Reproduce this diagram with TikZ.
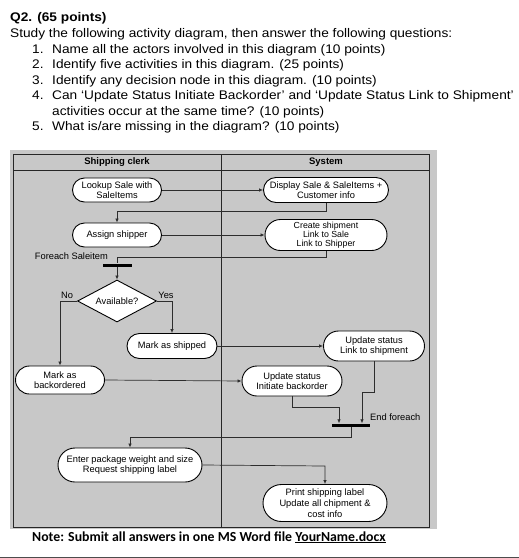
\documentclass[tikz,border=0pt]{standalone}
\usepackage{fontspec}
\setmainfont{Liberation Sans}
\newfontfamily\qfont[FakeStretch=1.095,Ligatures=TeX]{Liberation Sans}
\newfontfamily\notefont{Carlito}
\usetikzlibrary{shapes.geometric,shapes.misc,arrows.meta}
\definecolor{bggray}{RGB}{200,200,200}
\definecolor{lnc}{RGB}{45,45,45}
\begin{document}
\begin{tikzpicture}[x=1pt,y=-1pt,
 act/.style={draw=black, line width=0.9pt, fill=white, rounded rectangle, inner sep=0.5pt, align=center, font=\fontsize{9.3}{10}\selectfont},
 conn/.style={draw=lnc, line width=0.7pt},
 arr/.style={conn, -{Latex[length=4pt,width=3.5pt]}},
 barnode/.style={fill=black, inner sep=0, minimum height=3pt},
 lbl/.style={font=\fontsize{9.3}{10}\selectfont, inner sep=0},
 hdr/.style={font=\bfseries\fontsize{9.5}{11}\selectfont, inner sep=0},
 qtext/.style={anchor=base west, inner sep=0, font=\qfont\fontsize{12.5}{15}\selectfont},
 ]
\useasboundingbox (0,0) rectangle (519,558);
% question text
\node[qtext, font=\qfont\bfseries\fontsize{12.5}{15}\selectfont] (q0) at (10,21) {Q2. (65 points)};
\node[qtext] (q1) at (10,37) {Study the following activity diagram, then answer the following questions:};
\node[qtext] (n1) at (32,53) {1.};
\node[qtext] (t1) at (52,53) {Name all the actors involved in this diagram (10 points)};
\node[qtext] (n2) at (32,68.5) {2.};
\node[qtext] (t2) at (52,68.5) {Identify five activities in this diagram. (25 points)};
\node[qtext] (n3) at (32,84) {3.};
\node[qtext] (t3) at (52,84) {Identify any decision node in this diagram. (10 points)};
\node[qtext] (n4) at (32,99.5) {4.};
\node[qtext] (t4) at (52,99.5) {Can ‘Update Status Initiate Backorder’ and ‘Update Status Link to Shipment’};
\node[qtext] (t4b) at (52,115) {activities occur at the same time? (10 points)};
\node[qtext] (n5) at (32,130.5) {5.};
\node[qtext] (t5) at (52,130.5) {What is/are missing in the diagram? (10 points)};
% frame
\fill[bggray] (10,150) rectangle (437,529);
\draw[line width=0.8pt, black!85] (13,154) rectangle (429,527);
\draw[line width=0.8pt, black!85] (13,170) -- (429,170);
\draw[line width=0.8pt, black!85] (221,154) -- (221,527);
\node[hdr] (h1) at (117,162) {Shipping clerk};
\node[hdr] (h2) at (326,162) {System};
% activities
\node[act, minimum width=90pt, minimum height=24pt] (lookup) at (117,190) {Lookup Sale with\\SaleItems};
\node[act, minimum width=126pt, minimum height=25pt] (display) at (326,190) {Display Sale \& SaleItems +\\Customer info};
\node[act, minimum width=90pt, minimum height=24pt] (assign) at (117,235) {Assign shipper};
\node[act, minimum width=125pt, minimum height=31pt, inner sep=1.5pt, font=\fontsize{8.8}{9.2}\selectfont] (create) at (326,235) {Create shipment\\Link to Sale\\Link to Shipper};
\node[barnode, minimum width=29pt] (fork) at (117,265) {};
\node[lbl, anchor=east] (fe) at (108,256) {Foreach Saleitem};
\node[diamond, draw=black, line width=0.9pt, fill=white, minimum width=79pt, minimum height=42pt, inner sep=0, aspect=1.9, font=\fontsize{9.3}{10}\selectfont] (avail) at (117,301) {Available?};
\node[act, minimum width=91pt, minimum height=25pt] (markship) at (172,346) {Mark as shipped};
\node[act, minimum width=90pt, minimum height=28pt] (markback) at (60,380) {Mark as\\backordered};
\node[act, minimum width=102pt, minimum height=30pt] (linkship) at (374,346) {Update status\\Link to shipment};
\node[act, minimum width=101pt, minimum height=30pt] (initiate) at (292,381) {Update status\\Initiate backorder};
\node[barnode, minimum width=38pt] (join) at (351,425) {};
\node[lbl, anchor=west] (ef) at (370,417) {End foreach};
\node[act, minimum width=145pt, minimum height=34pt] (enter) at (130,465) {Enter package weight and size\\Request shipping label};
\node[act, minimum width=125pt, minimum height=37pt, font=\fontsize{9.3}{10.8}\selectfont] (print) at (325,503) {Print shipping label\\Update all chipment \&\\cost info};
% labels
\node[lbl, anchor=south] (no) at (67,299) {No};
\node[lbl, anchor=south] (yes) at (166,299) {Yes};
% connectors
\coordinate (c1) at (117,211);
\coordinate (c2) at (117,257);
\coordinate (c3) at (60,301);
\coordinate (c4) at (172,301);
\coordinate (c5) at (292,407);
\coordinate (c6) at (339,407);
\coordinate (c7) at (374,392);
\coordinate (c8) at (362,392);
\coordinate (c9) at (351,437);
\coordinate (c10) at (130,437);
\coordinate (c11) at (325,466);
\draw[arr] (lookup.east) -- (display.west);
\draw[arr] (display.south) |- (c1) -- (assign.north);
\draw[arr] (assign.east) -- (create.west);
\draw[conn] (create.south) |- (c2) -- (fork.north);
\draw[arr] (fork.south) -- (avail.north);
\draw[arr] (avail.west) -- (c3) -- (markback.north);
\draw[arr] (avail.east) -- (c4) -- (markship.north);
\draw[arr] (markship.east) -- (linkship.west);
\draw[arr] (markback.east) -- (initiate.west);
\draw[arr] (initiate.south) -- (c5) -- (c6) -- (c6 |- join.north);
\draw[arr] (linkship.south) -- (c7) -- (c8) -- (c8 |- join.north);
\draw[arr] (join.south) -- (c9) -- (c10) -- (enter.north);
\draw[arr] (enter.east) -- (c11) -- (print.north);
% note
\node[anchor=base west, inner sep=0, font=\notefont\bfseries\fontsize{13.8}{16}\selectfont] (note) at (32,541) {Note: Submit all answers in one MS Word file \underline{YourName.docx}};
\draw[black!70, line width=1pt] (0,557) -- (519,557);
\end{tikzpicture}
\end{document}
